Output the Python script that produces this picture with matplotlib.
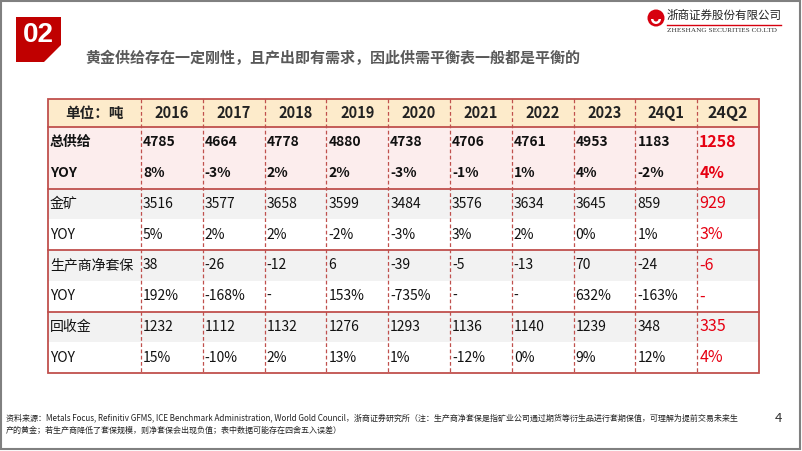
import matplotlib.pyplot as plt
from matplotlib.patches import Rectangle, Polygon, Circle, Wedge

plt.rcParams['font.family'] = ['Noto Sans CJK SC', 'DejaVu Sans']

# ---- data ----
cols = ['2016', '2017', '2018', '2019', '2020', '2021', '2022', '2023', '24Q1', '24Q2']
row_labels = ['总供给', 'YOY', '金矿', 'YOY', '生产商净套保', 'YOY', '回收金', 'YOY']
total_supply = ['4785', '4664', '4778', '4880', '4738', '4706', '4761', '4953', '1183', '1258']
total_yoy = ['8%', '-3%', '2%', '2%', '-3%', '-1%', '1%', '4%', '-2%', '4%']
mine = ['3516', '3577', '3658', '3599', '3484', '3576', '3634', '3645', '859', '929']
mine_yoy = ['5%', '2%', '2%', '-2%', '-3%', '3%', '2%', '0%', '1%', '3%']
hedge = ['38', '-26', '-12', '6', '-39', '-5', '-13', '70', '-24', '-6']
hedge_yoy = ['192%', '-168%', '-', '153%', '-735%', '-', '-', '632%', '-163%', '-']
recycle = ['1232', '1112', '1132', '1276', '1293', '1136', '1140', '1239', '348', '335']
recycle_yoy = ['15%', '-10%', '2%', '13%', '1%', '-12%', '0%', '9%', '12%', '4%']
rows = [total_supply, total_yoy, mine, mine_yoy, hedge, hedge_yoy, recycle, recycle_yoy]

title = '黄金供给存在一定刚性，且产出即有需求，因此供需平衡表一般都是平衡的'
note = ('资料来源：Metals Focus, Refinitiv GFMS, ICE Benchmark Administration, World Gold Council，浙商证券研究所（注：生产商净套保是指矿业公司通过期货等衍生品进行套期保值，可理解为提前交易未来生\n'
        '产的黄金；若生产商降低了套保规模，则净套保会出现负值；表中数据可能存在四舍五入误差）')

red = '#C00000'
line_red = '#C0504D'
hl_red = '#E60012'

fig = plt.figure(figsize=(8.02, 4.51), dpi=100)
ax = fig.add_axes([0, 0, 1, 1])
ax.set_xlim(0, 802)
ax.set_ylim(451, 0)
ax.axis('off')

# slide frame
ax.add_patch(Rectangle((1, 1), 799, 448, fill=False, ec='#808080', lw=1.5))

# section badge
ax.add_patch(Polygon([(16, 17), (61, 17), (61, 45), (44, 62), (16, 62)], closed=True, fc=red, ec='none'))
ax.text(38, 35, '02', color='white', fontsize=20, fontweight='bold', ha='center', va='center',
        family=['Liberation Sans', 'DejaVu Sans'])
ax.text(85, 58, title, color='#595959', fontsize=10.8, fontweight='bold', ha='left', va='center')

# logo
ax.add_patch(Circle((656, 18), 8.5, fc='#D7000F', ec='none'))
ax.add_patch(Wedge((656, 19), 5, 0, 180, fc='white', ec='none'))
ax.add_patch(Circle((656, 19), 2.5, fc='#D7000F', ec='none'))
ax.text(667, 15.5, '浙商证券股份有限公司', fontsize=8.3, ha='left', va='center', color='#222222')
ax.plot([667, 781], [24.5, 24.5], color='#D7000F', lw=1)
ax.text(667, 30.5, 'ZHESHANG SECURITIES CO.LTD', fontsize=5.2, ha='left', va='center',
        color='#333333', family=['Liberation Serif', 'DejaVu Serif'])

# table geometry
x0, first_w, col_w = 48, 93, 61.8
y_top, head_h, row_h = 99, 28, 30.75
n_cols = len(cols)
x_right = x0 + first_w + n_cols * col_w
y_head_bot = y_top + head_h
y_bot = y_head_bot + len(rows) * row_h

# backgrounds
ax.add_patch(Rectangle((x0, y_top), x_right - x0, head_h, fc='#FDEBCB', ec='none'))
for i in range(len(rows)):
    if i < 2:
        bg = '#FCEDED'
    elif i % 2 == 0:
        bg = '#F2F2F2'
    else:
        bg = 'white'
    ax.add_patch(Rectangle((x0, y_head_bot + i * row_h), x_right - x0, row_h, fc=bg, ec='none'))

# header text
ax.text(x0 + first_w / 2, y_top + head_h / 2, '单位：吨', fontsize=10.5, fontweight='bold',
        ha='center', va='center', color='#222222')
for j, c in enumerate(cols):
    cx = x0 + first_w + (j + 0.5) * col_w
    ax.text(cx, y_top + head_h / 2, c, fontsize=11.5 if j == n_cols - 1 else 10.5, fontweight='bold',
            ha='center', va='center', color='#222222')

# body text
for i, (lab, vals) in enumerate(zip(row_labels, rows)):
    cy = y_head_bot + (i + 0.5) * row_h
    bold = 'bold' if i < 2 else 'normal'
    ax.text(x0 + 2, cy, lab, fontsize=10, fontweight=bold, ha='left', va='center', color='#111111')
    for j, v in enumerate(vals):
        lx = x0 + first_w + j * col_w + 2
        last = j == n_cols - 1
        ax.text(lx, cy, v, fontsize=11.5 if last else 10, fontweight=bold, ha='left', va='center',
                color=hl_red if last else '#111111')

# grid lines
for j in range(n_cols):
    gx = x0 + first_w + j * col_w
    ax.plot([gx, gx], [y_top, y_bot], color=line_red, lw=0.9, ls=(0, (3, 2)))
for k in [0, 2, 4, 6]:
    gy = y_head_bot + k * row_h
    ax.plot([x0, x_right], [gy, gy], color=line_red, lw=1.3)
ax.add_patch(Rectangle((x0, y_top), x_right - x0, y_bot - y_top, fill=False, ec=line_red, lw=1.3))

# footnote and page number
ax.text(6, 424, note, fontsize=5.8, ha='left', va='center', color='#222222', linespacing=1.5)
ax.text(778, 419, '4', fontsize=9.5, ha='center', va='center', color='#333333')

fig.savefig('out.png', dpi=100)
